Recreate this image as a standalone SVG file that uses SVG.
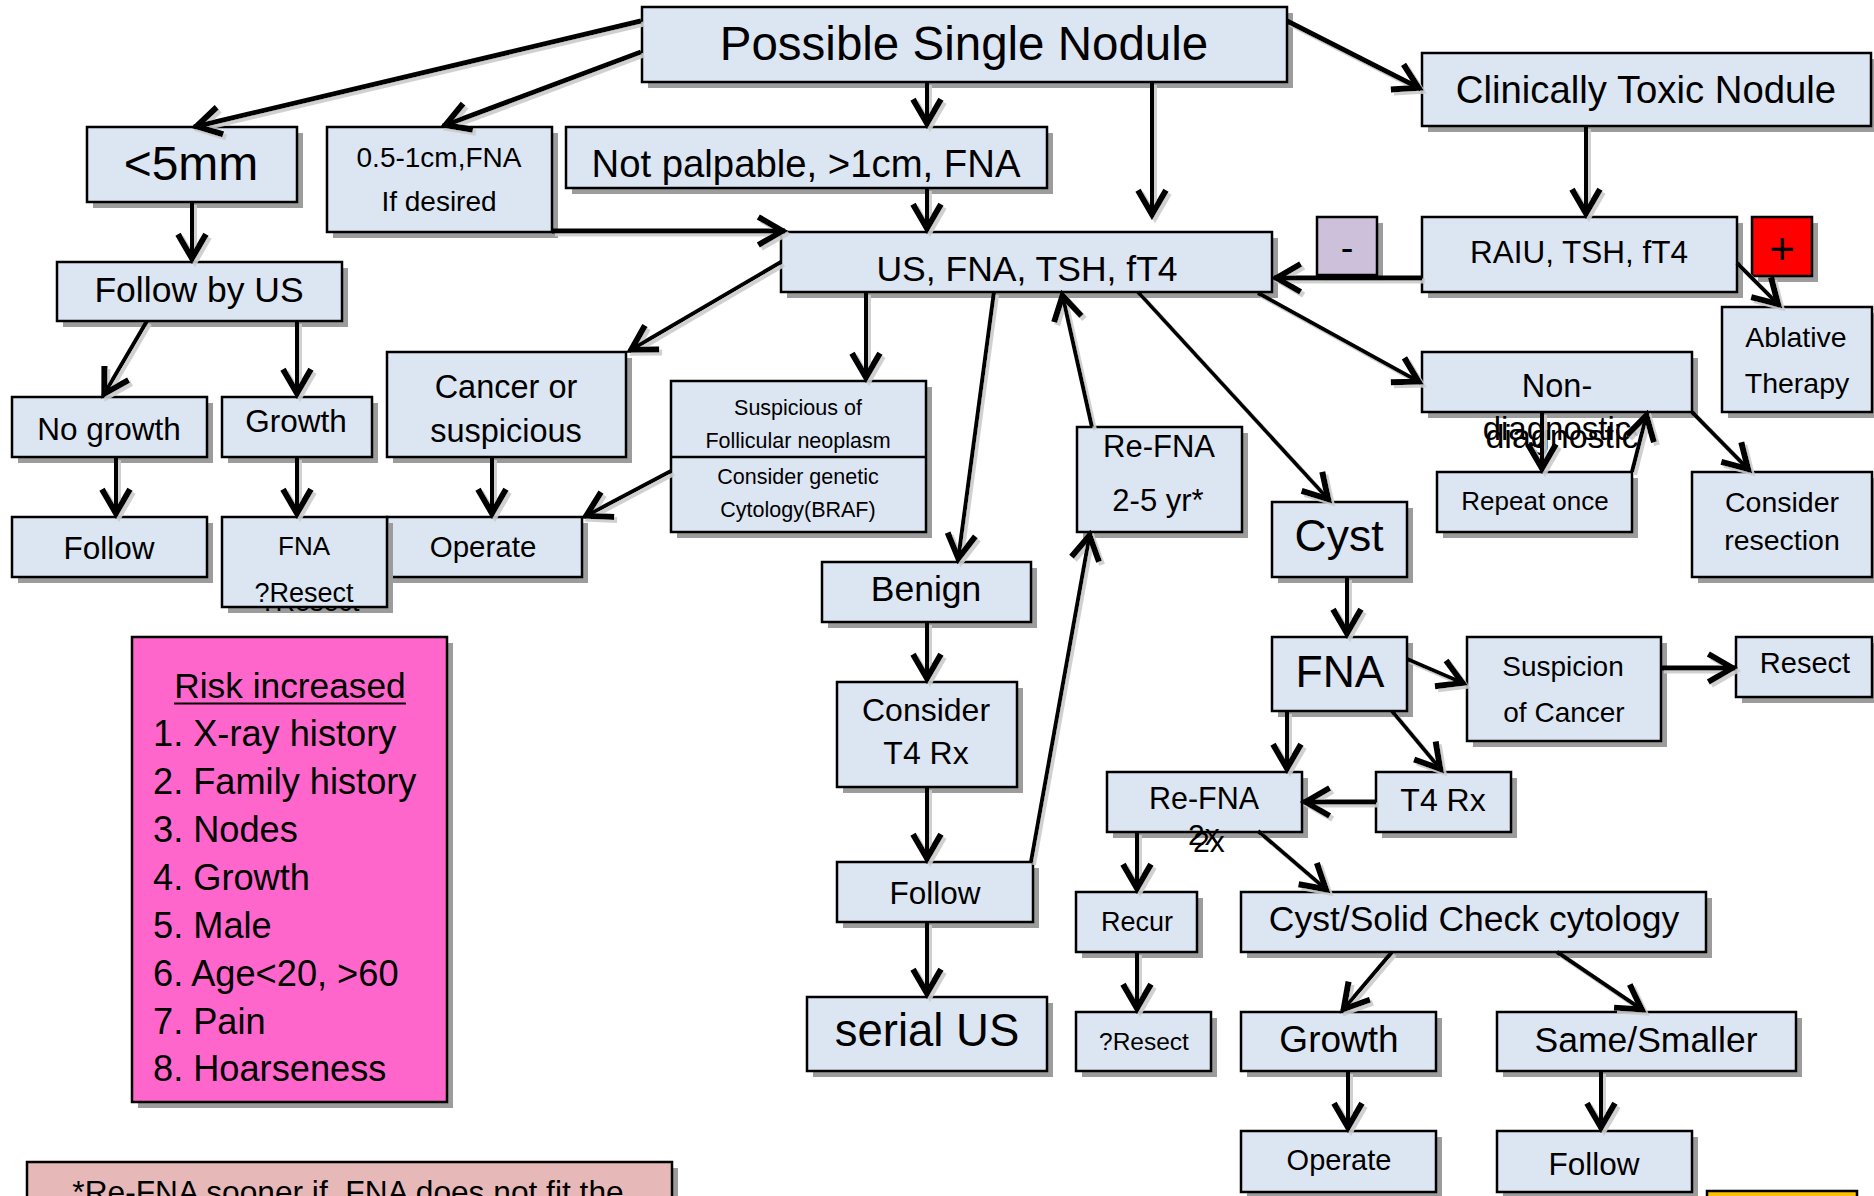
<svg xmlns="http://www.w3.org/2000/svg" width="1874" height="1196" viewBox="0 0 1874 1196">
<style>
.b{fill:#dce6f2;stroke:#000;stroke-width:2.5}
.s{fill:#9c9c9c}
.t{font-family:"Liberation Sans",Arial,sans-serif;text-anchor:middle;fill:#000}
.l{font-family:"Liberation Sans",Arial,sans-serif;text-anchor:start;fill:#000}
.c{fill:none;stroke:#000;stroke-width:4;marker-end:url(#ah)}
.w{stroke-width:5}
</style>
<defs>
<marker id="ah" markerUnits="userSpaceOnUse" markerWidth="40" markerHeight="40" viewBox="-25 -15 30 30" refX="0" refY="0" orient="auto" overflow="visible">
<path d="M-20,-10.5 L-2,0 L-20,10.5" fill="none" stroke="#000" stroke-width="4.5"/>
</marker>
<filter id="lsh" x="-5%" y="-5%" width="110%" height="110%">
<feOffset in="SourceAlpha" dx="3" dy="3" result="o"/>
<feColorMatrix in="o" type="matrix" values="0 0 0 0 0.6 0 0 0 0 0.6 0 0 0 0 0.6 0 0 0 0.9 0" result="g"/>
<feMerge><feMergeNode in="g"/><feMergeNode in="SourceGraphic"/></feMerge>
</filter>
</defs>
<rect width="1874" height="1196" fill="#fff"/>

<g id="n-psn"><rect class="s" x="648" y="13" width="645" height="75"/><rect class="b" x="642" y="7" width="645" height="75"/><text class="t" x="964" y="60" font-size="47.5">Possible Single Nodule</text></g>
<g id="n-toxic"><rect class="s" x="1428" y="59" width="449" height="73"/><rect class="b" x="1422" y="53" width="449" height="73"/><text class="t" x="1646" y="103" font-size="38.3">Clinically Toxic Nodule</text></g>
<g id="n-lt5"><rect class="s" x="93" y="133" width="210" height="75"/><rect class="b" x="87" y="127" width="210" height="75"/><text class="t" x="191" y="180" font-size="48">&lt;5mm</text></g>
<g id="n-05"><rect class="s" x="333" y="133" width="225" height="105"/><rect class="b" x="327" y="127" width="225" height="105"/><text class="t" x="439" y="167" font-size="28">0.5-1cm,FNA</text><text class="t" x="439" y="211" font-size="28">If desired</text></g>
<g id="n-notpalp"><rect class="s" x="572" y="133" width="481" height="61"/><rect class="b" x="566" y="127" width="481" height="61"/><text class="t" x="806" y="177" font-size="38.3">Not palpable, &gt;1cm, FNA</text></g>
<g id="n-us"><rect class="s" x="787" y="238" width="491" height="60"/><rect class="b" x="781" y="232" width="491" height="60"/><text class="t" x="1027" y="281" font-size="35.5">US, FNA, TSH, fT4</text></g>
<g id="n-minus"><rect class="s" x="1323" y="223" width="60" height="58"/><rect x="1317" y="217" width="60" height="58" fill="#ccc0da" stroke="#000" stroke-width="2.5"/><text class="t" x="1347" y="261" font-size="38">-</text></g>
<g id="n-raiu"><rect class="s" x="1428" y="223" width="315" height="75"/><rect class="b" x="1422" y="217" width="315" height="75"/><text class="t" x="1579" y="263" font-size="31.5">RAIU, TSH, fT4</text></g>
<g id="n-plus"><rect class="s" x="1758" y="223" width="60" height="59"/><rect x="1752" y="217" width="60" height="59" fill="#ff0000" stroke="#000" stroke-width="2.5"/><text class="t" x="1782" y="264" font-size="44">+</text></g>
<g id="n-ablative"><rect class="s" x="1728" y="313" width="150" height="105"/><rect class="b" x="1722" y="307" width="150" height="105"/><text class="t" x="1796" y="347" font-size="28.5">Ablative</text><text class="t" x="1797" y="393" font-size="28.5">Therapy</text></g>
<g id="n-followus"><rect class="s" x="63" y="268" width="285" height="59"/><rect class="b" x="57" y="262" width="285" height="59"/><text class="t" x="199" y="302" font-size="35.5">Follow by US</text></g>
<g id="n-nogrowth"><rect class="s" x="18" y="403" width="195" height="60"/><rect class="b" x="12" y="397" width="195" height="60"/><text class="t" x="109" y="440" font-size="31.5">No growth</text></g>
<g id="n-growth1"><rect class="s" x="228" y="403" width="150" height="60"/><rect class="b" x="222" y="397" width="150" height="60"/><text class="t" x="296" y="432" font-size="31.5">Growth</text></g>
<g id="n-cancer"><rect class="s" x="393" y="358" width="239" height="105"/><rect class="b" x="387" y="352" width="239" height="105"/><text class="t" x="506" y="398" font-size="32.5">Cancer or</text><text class="t" x="506" y="442" font-size="32.5">suspicious</text></g>
<g id="n-follic"><rect class="s" x="677" y="387" width="255" height="151"/><rect class="b" x="671" y="381" width="255" height="151"/><line x1="671" y1="457" x2="926" y2="457" stroke="#000" stroke-width="2.5"/><text class="t" x="798" y="415" font-size="21.5">Suspicious of</text><text class="t" x="798" y="448" font-size="21.5">Follicular neoplasm</text><text class="t" x="798" y="484" font-size="21.5">Consider genetic</text><text class="t" x="798" y="517" font-size="21.5">Cytology(BRAF)</text></g>
<g id="n-follow1"><rect class="s" x="18" y="523" width="195" height="60"/><rect class="b" x="12" y="517" width="195" height="60"/><text class="t" x="109" y="559" font-size="31.5">Follow</text></g>
<g id="n-operate1"><rect class="s" x="393" y="523" width="195" height="60"/><rect class="b" x="387" y="517" width="195" height="60"/><text class="t" x="483" y="557" font-size="29.5">Operate</text></g>
<g id="n-fnaresect"><rect class="s" x="228" y="523" width="165" height="90"/><text class="t" x="310" y="611" font-size="27">?Resect</text><rect class="b" x="222" y="517" width="165" height="90"/><text class="t" x="304" y="555" font-size="26">FNA</text><text class="t" x="304" y="602" font-size="27">?Resect</text></g>
<g id="n-nondiag"><rect class="s" x="1428" y="358" width="270" height="60"/><rect class="b" x="1422" y="352" width="270" height="60"/><text class="t" x="1557" y="397" font-size="32.5">Non-</text><text class="t" x="1557" y="440" font-size="33">diagnostic</text><text class="t" x="1562" y="448" font-size="34">diagnostic</text></g>
<g id="n-repeat"><rect class="s" x="1443" y="478" width="195" height="60"/><rect class="b" x="1437" y="472" width="195" height="60"/><text class="t" x="1535" y="510" font-size="26">Repeat once</text></g>
<g id="n-consres"><rect class="s" x="1698" y="478" width="180" height="105"/><rect class="b" x="1692" y="472" width="180" height="105"/><text class="t" x="1782" y="512" font-size="28.5">Consider</text><text class="t" x="1782" y="550" font-size="28.5">resection</text></g>
<g id="n-refna25"><rect class="s" x="1083" y="433" width="165" height="105"/><rect class="b" x="1077" y="427" width="165" height="105"/><text class="t" x="1159" y="457" font-size="31">Re-FNA</text><text class="t" x="1158" y="511" font-size="31">2-5 yr*</text></g>
<g id="n-cyst"><rect class="s" x="1278" y="508" width="135" height="75"/><rect class="b" x="1272" y="502" width="135" height="75"/><text class="t" x="1339" y="551" font-size="44.5">Cyst</text></g>
<g id="n-benign"><rect class="s" x="828" y="568" width="209" height="60"/><rect class="b" x="822" y="562" width="209" height="60"/><text class="t" x="926" y="601" font-size="35.5">Benign</text></g>
<g id="n-t4rx1"><rect class="s" x="843" y="688" width="180" height="105"/><rect class="b" x="837" y="682" width="180" height="105"/><text class="t" x="926" y="721" font-size="32">Consider</text><text class="t" x="926" y="764" font-size="32">T4 Rx</text></g>
<g id="n-follow2"><rect class="s" x="843" y="868" width="196" height="60"/><rect class="b" x="837" y="862" width="196" height="60"/><text class="t" x="935" y="904" font-size="31.5">Follow</text></g>
<g id="n-serial"><rect class="s" x="813" y="1003" width="240" height="74"/><rect class="b" x="807" y="997" width="240" height="74"/><text class="t" x="927" y="1046" font-size="45.5">serial US</text></g>
<g id="n-fna2"><rect class="s" x="1278" y="643" width="135" height="74"/><rect class="b" x="1272" y="637" width="135" height="74"/><text class="t" x="1340" y="687" font-size="44.5">FNA</text></g>
<g id="n-suspcancer"><rect class="s" x="1473" y="643" width="194" height="104"/><rect class="b" x="1467" y="637" width="194" height="104"/><text class="t" x="1563" y="676" font-size="28">Suspicion</text><text class="t" x="1564" y="722" font-size="28">of Cancer</text></g>
<g id="n-resect1"><rect class="s" x="1742" y="643" width="136" height="60"/><rect class="b" x="1736" y="637" width="136" height="60"/><text class="t" x="1805" y="673" font-size="29">Resect</text></g>
<g id="n-refna2x"><rect class="s" x="1113" y="778" width="195" height="60"/><rect class="b" x="1107" y="772" width="195" height="60"/><text class="t" x="1204" y="809" font-size="30.5">Re-FNA</text><text class="l" x="1188" y="845" font-size="30">2x</text><text class="l" x="1193" y="852" font-size="30">2x</text></g>
<g id="n-t4rx2"><rect class="s" x="1382" y="778" width="135" height="60"/><rect class="b" x="1376" y="772" width="135" height="60"/><text class="t" x="1443" y="811" font-size="32">T4 Rx</text></g>
<g id="n-recur"><rect class="s" x="1082" y="898" width="121" height="60"/><rect class="b" x="1076" y="892" width="121" height="60"/><text class="t" x="1137" y="931" font-size="27">Recur</text></g>
<g id="n-resect2"><rect class="s" x="1082" y="1018" width="135" height="59"/><rect class="b" x="1076" y="1012" width="135" height="59"/><text class="t" x="1144" y="1050" font-size="24.5">?Resect</text></g>
<g id="n-cystsolid"><rect class="s" x="1247" y="898" width="465" height="60"/><rect class="b" x="1241" y="892" width="465" height="60"/><text class="t" x="1474" y="931" font-size="35.5">Cyst/Solid Check cytology</text></g>
<g id="n-growth2"><rect class="s" x="1247" y="1018" width="195" height="59"/><rect class="b" x="1241" y="1012" width="195" height="59"/><text class="t" x="1339" y="1052" font-size="37">Growth</text></g>
<g id="n-same"><rect class="s" x="1503" y="1018" width="299" height="59"/><rect class="b" x="1497" y="1012" width="299" height="59"/><text class="t" x="1646" y="1052" font-size="35.5">Same/Smaller</text></g>
<g id="n-operate2"><rect class="s" x="1247" y="1137" width="195" height="61"/><rect class="b" x="1241" y="1131" width="195" height="61"/><text class="t" x="1339" y="1170" font-size="29">Operate</text></g>
<g id="n-follow3"><rect class="s" x="1503" y="1137" width="195" height="61"/><rect class="b" x="1497" y="1131" width="195" height="61"/><text class="t" x="1594" y="1175" font-size="31.5">Follow</text></g>
<g id="n-risk"><rect class="s" x="138" y="643" width="315" height="465"/><rect x="132" y="637" width="315" height="465" fill="#ff66cc" stroke="#000" stroke-width="2.5"/><text class="t" x="290" y="698" font-size="35.3">Risk increased</text><line x1="174" y1="703.5" x2="406" y2="703.5" stroke="#000" stroke-width="2"/>
<text class="l" x="153" y="746" font-size="36.2">1. X-ray history</text>
<text class="l" x="153" y="794" font-size="36.2">2. Family history</text>
<text class="l" x="153" y="842" font-size="36.2">3. Nodes</text>
<text class="l" x="153" y="890" font-size="36.2">4. Growth</text>
<text class="l" x="153" y="938" font-size="36.2">5. Male</text>
<text class="l" x="153" y="986" font-size="36.2">6. Age&lt;20, &gt;60</text>
<text class="l" x="153" y="1034" font-size="36.2">7. Pain</text>
<text class="l" x="153" y="1081" font-size="36.2">8. Hoarseness</text></g>
<g id="n-footnote"><rect class="s" x="33" y="1168" width="645" height="60"/><rect x="27" y="1162" width="645" height="60" fill="#e6b9b8" stroke="#000" stroke-width="2.5"/><text class="t" x="348" y="1203" font-size="31.7" style="white-space:pre">*Re-FNA sooner if  FNA does not fit the</text></g>
<g id="n-yellow"><rect class="s" x="1713" y="1197" width="150" height="40"/><rect x="1707" y="1191" width="150" height="40" fill="#ffc000" stroke="#000" stroke-width="2.5"/></g>

<g id="connectors" filter="url(#lsh)">
<line class="c w" x1="641" y1="21" x2="194" y2="127"/>
<line class="c w" x1="641" y1="52" x2="443" y2="126"/>
<line class="c" x1="927" y1="82" x2="927" y2="126"/>
<line class="c" x1="927" y1="188" x2="927" y2="231"/>
<line class="c" x1="1152" y1="82" x2="1152" y2="217"/>
<line class="c w" x1="552" y1="231" x2="785" y2="231"/>
<line class="c w" x1="1287" y1="21" x2="1421" y2="89"/>
<line class="c" x1="1586" y1="126" x2="1586" y2="216"/>
<line class="c w" x1="1422" y1="278" x2="1274" y2="278"/>
<line class="c" x1="1737" y1="263" x2="1780" y2="306"/>
<line class="c" x1="781" y1="262" x2="629" y2="351"/>
<line class="c" x1="866" y1="292" x2="866" y2="380"/>
<line class="c" x1="994" y1="292" x2="958" y2="561"/>
<line class="c" x1="1031" y1="862" x2="1090" y2="533"/>
<line class="c" x1="1092" y1="427" x2="1062" y2="293"/>
<line class="c" x1="1138" y1="292" x2="1330" y2="501"/>
<line class="c" x1="1258" y1="293" x2="1421" y2="383"/>
<line class="c" x1="147" y1="321" x2="103" y2="396"/>
<line class="c" x1="297" y1="321" x2="297" y2="396"/>
<line class="c" x1="192" y1="202" x2="192" y2="261"/>
<line class="c" x1="116" y1="457" x2="116" y2="516"/>
<line class="c" x1="297" y1="457" x2="297" y2="516"/>
<line class="c" x1="492" y1="457" x2="492" y2="516"/>
<line class="c" x1="671" y1="471" x2="584" y2="517"/>
<line class="c" x1="927" y1="622" x2="927" y2="681"/>
<line class="c" x1="927" y1="787" x2="927" y2="861"/>
<line class="c" x1="927" y1="922" x2="927" y2="996"/>
<line class="c" x1="1347" y1="577" x2="1347" y2="636"/>
<line class="c" x1="1407" y1="659" x2="1465" y2="684"/>
<line class="c w" x1="1661" y1="668" x2="1735" y2="668"/>
<line class="c" x1="1287" y1="711" x2="1287" y2="771"/>
<line class="c" x1="1392" y1="711" x2="1442" y2="771"/>
<line class="c w" x1="1376" y1="802" x2="1303" y2="802"/>
<line class="c" x1="1137" y1="832" x2="1137" y2="891"/>
<line class="c" x1="1258" y1="831" x2="1328" y2="891"/>
<line class="c" x1="1137" y1="952" x2="1137" y2="1011"/>
<line class="c" x1="1392" y1="952" x2="1342" y2="1011"/>
<line class="c" x1="1557" y1="952" x2="1644" y2="1011"/>
<line class="c" x1="1348" y1="1071" x2="1348" y2="1130"/>
<line class="c" x1="1601" y1="1071" x2="1601" y2="1130"/>
<line class="c" x1="1542" y1="412" x2="1542" y2="471"/>
<line class="c" x1="1632" y1="472" x2="1647" y2="413"/>
<line class="c" x1="1692" y1="412" x2="1750" y2="471"/>
</g>
</svg>
